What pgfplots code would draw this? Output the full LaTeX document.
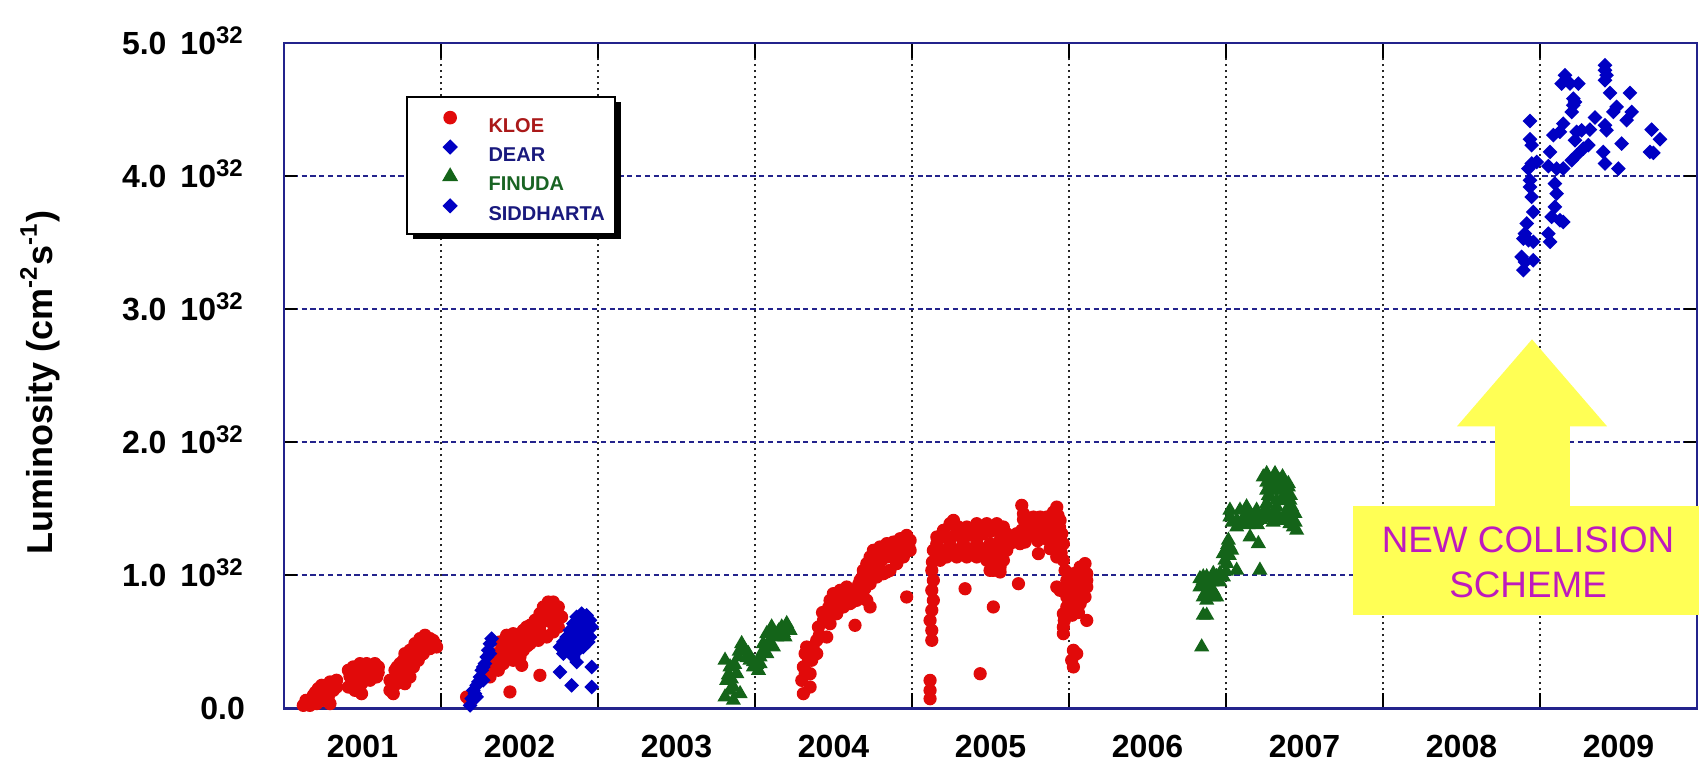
\documentclass[border=0pt]{standalone}
\usepackage{pgfplots}
\pgfplotsset{compat=1.18}
\usepackage{fontspec}
\setmainfont{Liberation Sans}
\usetikzlibrary{calc,shadows}

\definecolor{frameblue}{RGB}{35,35,140}
\definecolor{kloered}{RGB}{225,10,10}
\definecolor{dearblue}{RGB}{0,0,195}
\definecolor{finudagreen}{RGB}{20,100,25}
\definecolor{kloetext}{RGB}{170,25,25}
\definecolor{deartext}{RGB}{25,25,125}
\definecolor{finudatext}{RGB}{25,100,35}
\definecolor{annoyellow}{RGB}{255,255,85}
\definecolor{annomagenta}{RGB}{190,25,190}

\newcommand{\tl}[1]{#1\hspace{3.5pt}10\textsuperscript{32}}

\begin{document}
\begin{tikzpicture}
\begin{axis}[
  name=ax,
  scale only axis,
  width=353.25pt, height=166.25pt,
  xmin=2001, xmax=2010, ymin=0, ymax=5,
  clip=false,
  axis line style={draw=frameblue, line width=0.6pt},
  xtick={2001.5,2002.5,2003.5,2004.5,2005.5,2006.5,2007.5,2008.5,2009.5},
  xticklabels={2001,2002,2003,2004,2005,2006,2007,2008,2009},
  minor xtick={2002,2003,2004,2005,2006,2007,2008,2009},
  xminorgrids, ymajorgrids,
  ytick={0,1,2,3,4,5},
  yticklabels={0.0,\tl{1.0},\tl{2.0},\tl{3.0},\tl{4.0},\tl{5.0}},
  minor x grid style={black!85, dash pattern=on 0.6pt off 0.9pt, line width=0.45pt},
  y grid style={frameblue, dash pattern=on 1.3pt off 0.9pt, line width=0.45pt},
  tick style={black, line width=0.5pt},
  major x tick style={draw=none},
  major tick length=3.25pt, minor tick length=3.75pt,
  tick label style={font=\fontsize{8}{9.6}\selectfont\bfseries},
  xticklabel style={anchor=north, inner sep=0pt, yshift=-6.5pt},
  yticklabel style={anchor=base east, inner sep=0pt, xshift=-9.6pt, yshift=-2.85pt},
  ylabel={Luminosity (cm\textsuperscript{-2}s\textsuperscript{-1})},
  ylabel style={at={(axis description cs:-0.1727,0.49)}, anchor=center,
    font=\fontsize{9}{11}\selectfont\bfseries},
  legend style={at={(rel axis cs:0.0863,0.921)}, anchor=north west,
    draw=black, line width=0.5pt, fill=white,
    font=\fontsize{5}{6}\selectfont\bfseries,
    inner xsep=2.6pt, inner ysep=3.4pt, row sep=1.95pt,
    nodes={inner sep=0pt, text height=3.6pt, text depth=0pt},
    drop shadow={shadow xshift=1.4pt, shadow yshift=-1.4pt, fill=black, opacity=1}},
  legend cell align=left,
  legend image code/.code={%
    \draw[#1] plot coordinates {(0pt,1.8pt)};
    \pgfresetboundingbox
    \pgfpathrectangle{\pgfpoint{-8.2pt}{0pt}}{\pgfpoint{17.8pt}{3.6pt}}%
    \pgfusepath{use as bounding box}},
]

% KLOE
\addplot[only marks, mark=*, color=kloered, mark size=1.45pt] coordinates {
  (2001.123,0.022) (2001.155,0.048) (2001.187,0.098) (2001.218,0.148) (2001.250,0.110)
  (2001.272,0.173) (2001.293,0.198) (2001.335,0.211) (2001.314,0.135) (2001.208,0.035)
  (2001.293,0.035) (2001.250,0.060) (2001.165,0.022) (2001.240,0.173) (2001.314,0.198)
  (2001.335,0.160) (2001.282,0.085)
  (2001.14,0.06) (2001.19,0.06) (2001.23,0.10) (2001.27,0.13) (2001.30,0.16) (2001.20,0.12)
  (2001.410,0.286) (2001.410,0.160) (2001.441,0.311) (2001.484,0.336) (2001.526,0.336)
  (2001.579,0.336) (2001.601,0.311) (2001.590,0.236) (2001.548,0.211) (2001.494,0.110)
  (2001.452,0.135) (2001.463,0.211) (2001.516,0.261) (2001.569,0.286) (2001.431,0.211)
  (2001.494,0.185) (2001.548,0.286)
  (2001.43,0.26) (2001.47,0.28) (2001.50,0.30) (2001.54,0.31) (2001.58,0.27) (2001.44,0.17)
  (2001.47,0.24) (2001.53,0.23) (2001.57,0.25) (2001.60,0.27) (2001.42,0.24)
  (2001.675,0.135) (2001.675,0.211) (2001.707,0.286) (2001.739,0.336) (2001.770,0.411)
  (2001.802,0.436) (2001.834,0.486) (2001.866,0.524) (2001.898,0.549) (2001.930,0.524)
  (2001.962,0.486) (2001.972,0.461) (2001.717,0.185) (2001.770,0.185) (2001.802,0.236)
  (2001.824,0.311) (2001.855,0.361) (2001.887,0.411) (2001.930,0.449) (2001.781,0.311)
  (2001.739,0.211) (2001.845,0.436) (2001.908,0.486) (2001.696,0.110) (2001.739,0.261)
  (2001.69,0.17) (2001.71,0.23) (2001.76,0.26) (2001.79,0.27) (2001.83,0.38) (2001.86,0.42)
  (2001.89,0.46) (2001.92,0.49) (2001.95,0.51) (2001.76,0.36) (2001.81,0.36) (2001.72,0.31)
  (2002.163,0.085) (2002.185,0.048) (2002.312,0.236) (2002.333,0.311) (2002.354,0.411)
  (2002.376,0.499) (2002.418,0.549) (2002.460,0.561) (2002.503,0.536) (2002.524,0.586)
  (2002.545,0.611) (2002.567,0.624) (2002.599,0.662) (2002.630,0.712) (2002.652,0.762)
  (2002.683,0.799) (2002.715,0.799) (2002.747,0.762) (2002.768,0.687) (2002.747,0.611)
  (2002.715,0.574) (2002.673,0.536) (2002.620,0.511) (2002.567,0.486) (2002.524,0.436)
  (2002.503,0.386) (2002.514,0.323) (2002.460,0.361) (2002.418,0.436) (2002.397,0.336)
  (2002.365,0.286) (2002.652,0.662) (2002.694,0.712) (2002.609,0.586) (2002.439,0.123)
  (2002.630,0.248) (2002.482,0.461) (2002.333,0.386)
  (2002.35,0.33) (2002.38,0.39) (2002.40,0.45) (2002.43,0.50) (2002.45,0.47) (2002.48,0.52)
  (2002.50,0.48) (2002.53,0.50) (2002.55,0.54) (2002.58,0.56) (2002.60,0.61) (2002.63,0.62)
  (2002.66,0.70) (2002.68,0.66) (2002.70,0.75) (2002.73,0.72) (2002.75,0.70) (2002.71,0.64)
  (2002.64,0.56) (2002.55,0.47) (2002.49,0.43) (2002.43,0.38)
  (2004.308,0.110) (2004.298,0.210) (2004.308,0.311) (2004.319,0.411) (2004.329,0.461)
  (2004.361,0.361) (2004.393,0.511) (2004.404,0.611) (2004.436,0.661) (2004.457,0.711)
  (2004.478,0.812) (2004.499,0.862) (2004.542,0.887) (2004.584,0.912) (2004.616,0.874)
  (2004.648,0.887) (2004.669,0.962) (2004.690,1.037) (2004.712,1.088) (2004.733,1.138)
  (2004.754,1.188) (2004.796,1.213) (2004.839,1.238) (2004.881,1.250) (2004.924,1.275)
  (2004.966,1.300) (2004.988,1.263) (2004.977,1.188) (2004.945,1.138) (2004.903,1.088)
  (2004.860,1.037) (2004.818,1.012) (2004.775,0.987) (2004.733,0.937) (2004.712,0.812)
  (2004.733,0.762) (2004.648,0.812) (2004.605,0.787) (2004.563,0.762) (2004.520,0.711)
  (2004.478,0.636) (2004.457,0.536) (2004.393,0.411) (2004.351,0.260) (2004.351,0.160)
  (2004.637,0.624) (2004.966,0.837) (2004.839,1.025) (2004.924,1.213) (2004.807,1.113)
  (2004.542,0.812) (2004.669,0.862) (2004.499,0.762) (2004.584,0.837) (2004.754,1.062)
  (2004.881,1.138) (2004.988,1.188)
  (2004.32,0.26) (2004.34,0.36) (2004.37,0.46) (2004.41,0.55) (2004.43,0.72) (2004.47,0.76)
  (2004.52,0.82) (2004.56,0.86) (2004.60,0.85) (2004.63,0.84) (2004.66,0.93) (2004.68,0.98)
  (2004.70,1.02) (2004.72,1.05) (2004.75,1.10) (2004.78,1.06) (2004.79,1.15) (2004.82,1.17)
  (2004.85,1.14) (2004.86,1.20) (2004.89,1.18) (2004.91,1.23) (2004.94,1.25) (2004.96,1.22)
  (2004.98,1.22) (2004.76,1.02) (2004.70,0.90) (2004.62,0.80)
  (2005.126,1.037) (2005.136,0.962) (2005.126,0.887) (2005.136,0.812) (2005.126,0.737)
  (2005.115,0.661) (2005.126,0.586) (2005.126,0.511)
  (2005.115,0.210) (2005.115,0.135) (2005.115,0.072)
  (2005.136,1.188) (2005.158,1.288) (2005.200,1.338) (2005.242,1.388) (2005.264,1.413)
  (2005.296,1.363) (2005.349,1.363) (2005.412,1.388) (2005.476,1.388) (2005.540,1.388)
  (2005.582,1.363) (2005.603,1.313) (2005.625,1.238) (2005.603,1.188) (2005.582,1.113)
  (2005.561,1.062) (2005.518,1.037) (2005.476,1.113) (2005.412,1.138) (2005.349,1.138)
  (2005.285,1.138) (2005.221,1.138) (2005.179,1.113) (2005.158,1.238) (2005.242,1.238)
  (2005.327,1.263) (2005.412,1.263) (2005.497,1.238) (2005.561,1.263) (2005.455,1.313)
  (2005.370,1.313) (2005.497,1.037) (2005.561,1.025)
  (2005.18,1.19) (2005.22,1.19) (2005.27,1.19) (2005.31,1.20) (2005.36,1.20) (2005.40,1.20)
  (2005.45,1.20) (2005.50,1.18) (2005.54,1.18) (2005.58,1.20) (2005.20,1.29) (2005.27,1.30)
  (2005.31,1.32) (2005.40,1.33) (2005.50,1.33) (2005.55,1.33) (2005.59,1.30) (2005.45,1.15)
  (2005.53,1.12) (2005.13,1.10)
  (2005.699,1.526) (2005.710,1.463) (2005.731,1.388) (2005.773,1.438) (2005.816,1.438)
  (2005.858,1.438) (2005.901,1.476) (2005.922,1.513) (2005.943,1.413) (2005.954,1.313)
  (2005.943,1.213) (2005.922,1.138) (2005.901,1.263) (2005.858,1.313) (2005.795,1.313)
  (2005.731,1.288) (2005.688,1.238) (2005.667,1.313) (2005.752,1.363) (2005.837,1.363)
  (2005.964,1.238)
  (2005.70,1.34) (2005.71,1.42) (2005.75,1.30) (2005.78,1.39) (2005.80,1.26) (2005.82,1.33)
  (2005.84,1.40) (2005.86,1.27) (2005.88,1.35) (2005.90,1.40) (2005.92,1.30) (2005.93,1.45)
  (2005.94,1.36) (2005.72,1.25) (2005.88,1.20) (2005.95,1.17)
  (2005.964,1.113) (2005.975,1.037) (2005.986,0.962) (2005.943,0.887) (2005.922,0.912)
  (2005.986,0.837) (2005.986,0.762) (2005.964,0.711) (2005.964,0.611) (2005.964,0.561)
  (2006.028,0.436) (2006.017,0.361) (2006.049,0.411) (2006.028,0.311)
  (2006.028,1.012) (2006.071,1.062) (2006.102,1.088) (2006.113,1.012) (2006.113,0.912)
  (2006.092,0.887) (2006.049,0.862) (2006.028,0.812) (2006.071,0.787) (2006.102,0.837)
  (2006.113,0.962) (2006.113,0.661)
  (2006.05,0.95) (2006.07,0.92) (2006.09,0.96) (2006.05,1.02) (2006.08,1.01) (2006.04,0.75)
  (2006.02,0.70) (2006.06,0.72) (2005.99,0.90) (2005.97,0.66)
  (2005.338,0.899) (2005.518,0.762) (2005.678,0.937) (2005.805,1.163) (2005.434,0.260)
};
\addlegendentry{\textcolor{kloetext}{KLOE}}

% DEAR
\addplot[only marks, mark=square*, mark options={rotate=45}, color=dearblue, mark size=1.1pt] coordinates {
  (2002.185,0.022) (2002.195,0.073) (2002.216,0.110) (2002.227,0.173) (2002.248,0.236)
  (2002.259,0.286) (2002.280,0.336) (2002.291,0.386) (2002.301,0.436) (2002.312,0.486)
  (2002.322,0.524) (2002.206,0.135) (2002.238,0.198) (2002.269,0.311) (2002.312,0.411)
  (2002.269,0.211) (2002.227,0.085)
  (2002.758,0.461) (2002.779,0.499) (2002.800,0.536) (2002.821,0.586) (2002.843,0.637)
  (2002.864,0.687) (2002.896,0.712) (2002.928,0.699) (2002.949,0.662) (2002.960,0.611)
  (2002.949,0.536) (2002.938,0.499) (2002.906,0.461) (2002.864,0.424) (2002.843,0.386)
  (2002.864,0.348) (2002.821,0.436) (2002.779,0.411) (2002.885,0.561) (2002.917,0.586)
  (2002.832,0.536)
  (2002.80,0.47) (2002.84,0.49) (2002.87,0.52) (2002.90,0.55) (2002.93,0.63) (2002.89,0.65)
  (2002.87,0.62) (2002.92,0.52) (2002.86,0.47) (2002.81,0.52)
  (2002.758,0.273) (2002.832,0.173) (2002.960,0.311) (2002.960,0.160)
};
\addlegendentry{\textcolor{deartext}{DEAR}}

% FINUDA
\addplot[only marks, mark=triangle*, color=finudagreen, mark size=1.8pt] coordinates {
  (2003.809,0.085) (2003.820,0.210) (2003.841,0.311) (2003.809,0.361) (2003.862,0.160)
  (2003.884,0.260) (2003.894,0.386) (2003.915,0.486) (2003.937,0.436) (2003.968,0.361)
  (2003.990,0.311) (2004.022,0.285) (2004.032,0.386) (2004.053,0.486) (2004.075,0.561)
  (2004.106,0.611) (2004.138,0.536) (2004.170,0.611) (2004.202,0.636) (2004.223,0.586)
  (2004.191,0.536) (2004.117,0.461) (2004.075,0.411) (2004.032,0.336) (2003.862,0.060)
  (2003.841,0.135) (2003.905,0.110) (2003.958,0.411)
  (2003.83,0.25) (2003.85,0.22) (2003.87,0.33) (2003.90,0.43) (2003.95,0.38) (2003.99,0.35)
  (2004.01,0.33) (2004.05,0.43) (2004.09,0.50) (2004.12,0.55) (2004.15,0.58) (2004.18,0.57)
  (2004.21,0.61) (2004.10,0.58)
  (2006.845,0.461) (2006.855,0.699) (2006.877,0.699)
  (2006.855,0.837) (2006.877,0.812) (2006.898,0.862) (2006.919,0.837) (2006.940,0.837)
  (2006.834,0.912) (2006.855,0.962) (2006.877,0.988) (2006.919,1.013) (2006.961,1.013)
  (2006.983,0.988) (2006.940,0.962) (2006.898,0.912) (2006.855,0.988) (2006.834,0.975)
  (2006.87,0.94) (2006.91,0.95) (2006.94,0.99) (2006.87,0.87) (2006.92,0.88) (2006.96,0.95)
  (2007.00,1.03) (2007.02,1.15) (2007.01,1.23)
  (2007.004,1.088) (2006.983,1.163) (2007.025,1.213) (2007.015,1.263) (2007.036,1.188)
  (2006.993,1.113) (2007.068,1.038) (2007.216,1.038) (2007.153,1.288) (2007.206,1.238)
  (2007.025,1.439) (2007.025,1.489) (2007.068,1.413) (2007.100,1.388) (2007.153,1.464)
  (2007.195,1.413) (2007.237,1.464) (2007.280,1.439) (2007.322,1.464) (2007.365,1.413)
  (2007.386,1.439) (2007.407,1.388) (2007.429,1.363) (2007.450,1.338) (2007.068,1.363)
  (2007.089,1.489) (2007.131,1.514) (2007.195,1.489) (2007.259,1.489)
  (2007.04,1.40) (2007.11,1.43) (2007.13,1.46) (2007.17,1.44) (2007.22,1.42) (2007.26,1.43)
  (2007.30,1.47) (2007.34,1.43) (2007.38,1.47) (2007.42,1.42) (2007.44,1.40) (2007.43,1.48)
  (2007.30,1.40) (2007.20,1.38) (2007.14,1.38)
  (2007.237,1.739) (2007.259,1.764) (2007.280,1.689) (2007.312,1.764) (2007.344,1.714)
  (2007.375,1.689) (2007.397,1.664) (2007.365,1.589) (2007.322,1.564) (2007.280,1.589)
  (2007.259,1.639) (2007.344,1.639) (2007.407,1.564) (2007.397,1.689) (2007.418,1.514)
  (2007.439,1.464) (2007.259,1.539) (2007.322,1.514)
  (2007.27,1.60) (2007.30,1.64) (2007.35,1.56) (2007.38,1.61) (2007.41,1.60) (2007.30,1.72)
  (2007.33,1.68) (2007.36,1.74) (2007.26,1.70) (2007.40,1.52)
};
\addlegendentry{\textcolor{finudatext}{FINUDA}}

% SIDDHARTA
\addplot[only marks, mark=square*, mark options={rotate=45}, color=dearblue, mark size=1.1pt] coordinates {
  (2009.414,4.835) (2009.414,4.797) (2009.424,4.760) (2009.414,4.722) (2009.159,4.760)
  (2009.138,4.697) (2009.191,4.697) (2009.244,4.697) (2009.446,4.627) (2009.573,4.627)
  (2009.212,4.584) (2009.223,4.559) (2009.212,4.534) (2009.202,4.484) (2009.488,4.522)
  (2009.467,4.484) (2009.584,4.484) (2009.552,4.422) (2008.936,4.416) (2009.350,4.442)
  (2009.148,4.396) (2009.085,4.309) (2009.127,4.334) (2009.233,4.334) (2009.265,4.346)
  (2009.318,4.351) (2009.414,4.384) (2009.424,4.346) (2009.711,4.351) (2009.764,4.279)
  (2009.700,4.183) (2009.722,4.176) (2008.936,4.279) (2008.947,4.234) (2009.520,4.246)
  (2009.223,4.271) (2009.276,4.208) (2009.308,4.234) (2009.233,4.158) (2009.202,4.121)
  (2009.403,4.183) (2009.414,4.096) (2009.499,4.058) (2009.064,4.183) (2008.947,4.096)
  (2008.926,4.058) (2008.979,4.108) (2009.053,4.076) (2009.106,4.058) (2009.148,4.058)
  (2008.936,3.970) (2008.936,3.920) (2008.947,3.845) (2008.957,3.732) (2009.095,3.945)
  (2009.106,3.870) (2009.095,3.770) (2009.074,3.695) (2009.127,3.670) (2009.148,3.657)
  (2009.053,3.569) (2009.064,3.507) (2008.915,3.645) (2008.904,3.569) (2008.926,3.519)
  (2008.957,3.507) (2008.894,3.532) (2008.883,3.394) (2008.904,3.356) (2008.957,3.369)
  (2008.894,3.294)
};
\addlegendentry{\textcolor{deartext}{SIDDHARTA}}

% annotation
\fill[annoyellow] (axis cs:2007.809,0.699) rectangle (axis cs:2010.013,1.519);
\fill[annoyellow] (axis cs:2008.713,1.50) rectangle (axis cs:2009.191,2.125);
\fill[annoyellow] (axis cs:2008.471,2.12) -- (axis cs:2008.949,2.774) -- (axis cs:2009.427,2.12) -- cycle;
\node[anchor=base, inner sep=0pt, text=annomagenta, font=\fontsize{9.2}{11}\selectfont]
  at (axis cs:2008.924,1.173) {NEW COLLISION};
\node[anchor=base, inner sep=0pt, text=annomagenta, font=\fontsize{9.2}{11}\selectfont]
  at (axis cs:2008.924,0.835) {SCHEME};
\end{axis}
\pgfresetboundingbox
\path[use as bounding box] ($(ax.south west)+(-71pt,-15.75pt)$) rectangle ($(ax.north east)+(0.5pt,10.83pt)$);
\end{tikzpicture}
\end{document}
